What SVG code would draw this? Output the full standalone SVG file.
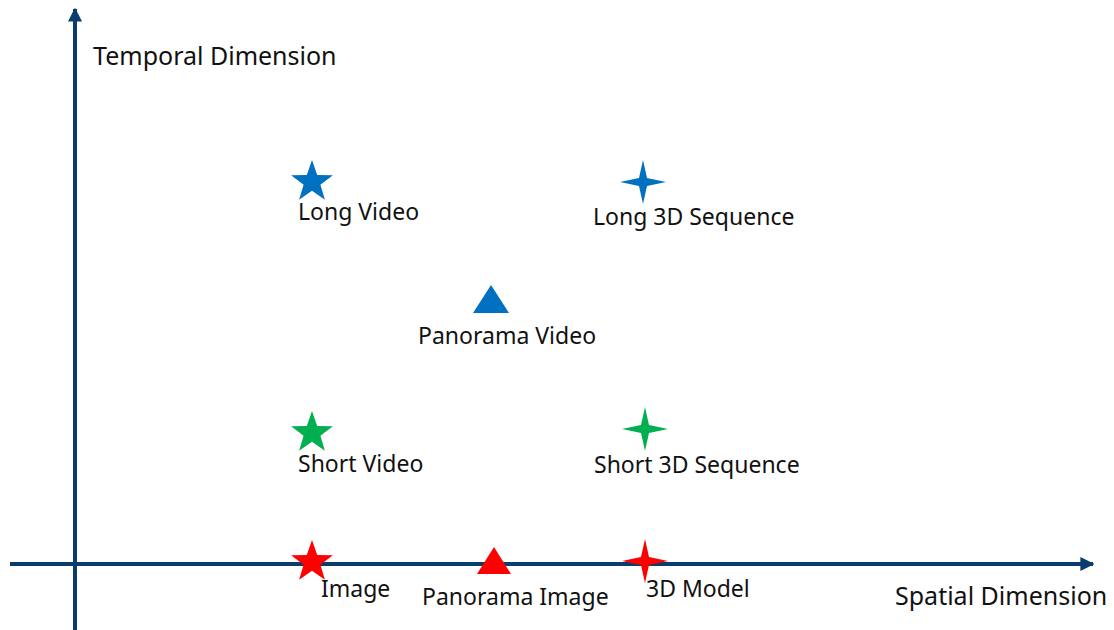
<svg xmlns="http://www.w3.org/2000/svg" width="1114" height="630" viewBox="0 0 1114 630">
  <defs>
    <marker id="arrow" viewBox="0 0 10 10" refX="9" refY="5" markerWidth="3.5" markerHeight="3.5" markerUnits="strokeWidth" orient="auto">
      <path d="M0,0 L10,5 L0,10 z" fill="#0B3C6E"/>
    </marker>
    <!-- five-point star, outer radius 22 -->
    <path id="star5" d="M0,-22 L5.2,-7.1 L20.9,-6.8 L8.4,2.7 L12.9,17.8 L0,8.8 L-12.9,17.8 L-8.4,2.7 L-20.9,-6.8 L-5.2,-7.1 z"/>
    <!-- four-point star -->
    <path id="star4" d="M0,-22 L4,-4 L23,0 L4,4 L0,22 L-4,4 L-23,0 L-4,-4 z"/>
  </defs>
  <style>
    .axis { stroke: #0B3C6E; stroke-width: 4; fill: none; }
    .label { font-family: "Noto Sans", "Open Sans", sans-serif; font-size: 23px; fill: #111111; }
    .axis-label { font-size: 25px; }
    .blue { fill: #0070C0; }
    .green { fill: #00B050; }
    .red { fill: #FF0000; }
  </style>
  <rect width="1114" height="630" fill="#FFFFFF"/>

  <g id="connectors">
    <line class="axis" x1="75" y1="630" x2="75" y2="9" marker-end="url(#arrow)"/>
    <line class="axis" x1="10" y1="564" x2="1093" y2="564" marker-end="url(#arrow)"/>
  </g>

  <g id="axis-labels">
    <text class="label axis-label" x="93" y="65">Temporal Dimension</text>
    <text class="label axis-label" x="895" y="605">Spatial Dimension</text>
  </g>

  <g id="long-video">
    <use href="#star5" class="blue" x="312" y="182"/>
    <text class="label" x="298" y="220">Long Video</text>
  </g>
  <g id="long-3d-sequence">
    <use href="#star4" class="blue" x="643" y="182"/>
    <text class="label" x="593" y="225">Long 3D Sequence</text>
  </g>
  <g id="panorama-video">
    <path class="blue" d="M491,285 L509,313 L473,313 z"/>
    <text class="label" x="418" y="344">Panorama Video</text>
  </g>
  <g id="short-video">
    <use href="#star5" class="green" x="312" y="433"/>
    <text class="label" x="298" y="472">Short Video</text>
  </g>
  <g id="short-3d-sequence">
    <use href="#star4" class="green" x="645" y="429"/>
    <text class="label" x="594" y="473">Short 3D Sequence</text>
  </g>
  <g id="image">
    <use href="#star5" class="red" x="312" y="562"/>
    <text class="label" x="321" y="597">Image</text>
  </g>
  <g id="panorama-image">
    <path class="red" d="M494,547 L511,574 L477,574 z"/>
    <text class="label" x="422" y="605">Panorama Image</text>
  </g>
  <g id="3d-model">
    <use href="#star4" class="red" x="645" y="561"/>
    <text class="label" x="646" y="597">3D Model</text>
  </g>
</svg>
